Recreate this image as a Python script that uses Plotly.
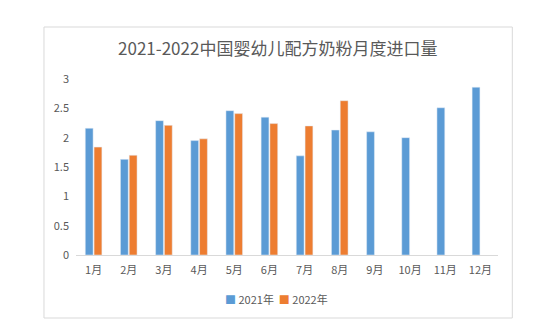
import plotly.graph_objects as go

months = ["1月", "2月", "3月", "4月", "5月", "6月", "7月", "8月", "9月", "10月", "11月", "12月"]
y2021 = [2.16, 1.63, 2.29, 1.95, 2.46, 2.35, 1.69, 2.13, 2.10, 2.00, 2.51, 2.86]
y2022 = [1.84, 1.70, 2.21, 1.98, 2.41, 2.24, 2.20, 2.63, None, None, None, None]
series_names = ["2021年", "2022年"]
colors = ["#5B9BD5", "#ED7D31"]
title = "2021-2022中国婴幼儿配方奶粉月度进口量"
FONT = "Noto Sans CJK SC"
GREY = "#595959"

fig = go.Figure()
for name, vals, c in zip(series_names, [y2021, y2022], colors):
    fig.add_trace(go.Bar(x=months, y=vals, name=name, marker_color=c, showlegend=False))

legend_text = "&nbsp;&nbsp;".join(
    f"<span style='color:{c}'>■</span> {n}" for n, c in zip(series_names, colors)
)

fig.update_layout(
    width=550, height=330,
    margin=dict(l=76, r=52, t=79, b=75),
    paper_bgcolor="white", plot_bgcolor="white",
    barmode="group", bargap=0.5, bargroupgap=0.11,
    font=dict(family=FONT, size=11, color=GREY),
    title=dict(text=title, x=0.505, xanchor="center", y=1 - 49 / 330, yanchor="middle",
               font=dict(family=FONT, size=17, color=GREY)),
    xaxis=dict(showline=True, linecolor="#D9D9D9", linewidth=1, ticks="",
               tickfont=dict(size=11, color=GREY), ticklabelstandoff=5),
    yaxis=dict(range=[0, 3], dtick=0.5, showgrid=False, zeroline=False, showline=False,
               tickfont=dict(size=11, color=GREY), ticklabelstandoff=6),
    annotations=[dict(text=legend_text, xref="paper", yref="paper",
                      x=(276 - 76) / 421.7, y=(255 - 299) / 176,
                      xanchor="center", yanchor="middle", showarrow=False,
                      font=dict(family=FONT, size=11, color=GREY))],
    shapes=[dict(type="rect", xref="paper", yref="paper",
                 x0=(44 - 76) / 421.7, x1=(512 - 76) / 421.7,
                 y0=(255 - 318) / 176, y1=(255 - 27) / 176,
                 line=dict(color="#D9D9D9", width=1), layer="below")],
)

fig.write_html("out.html")
